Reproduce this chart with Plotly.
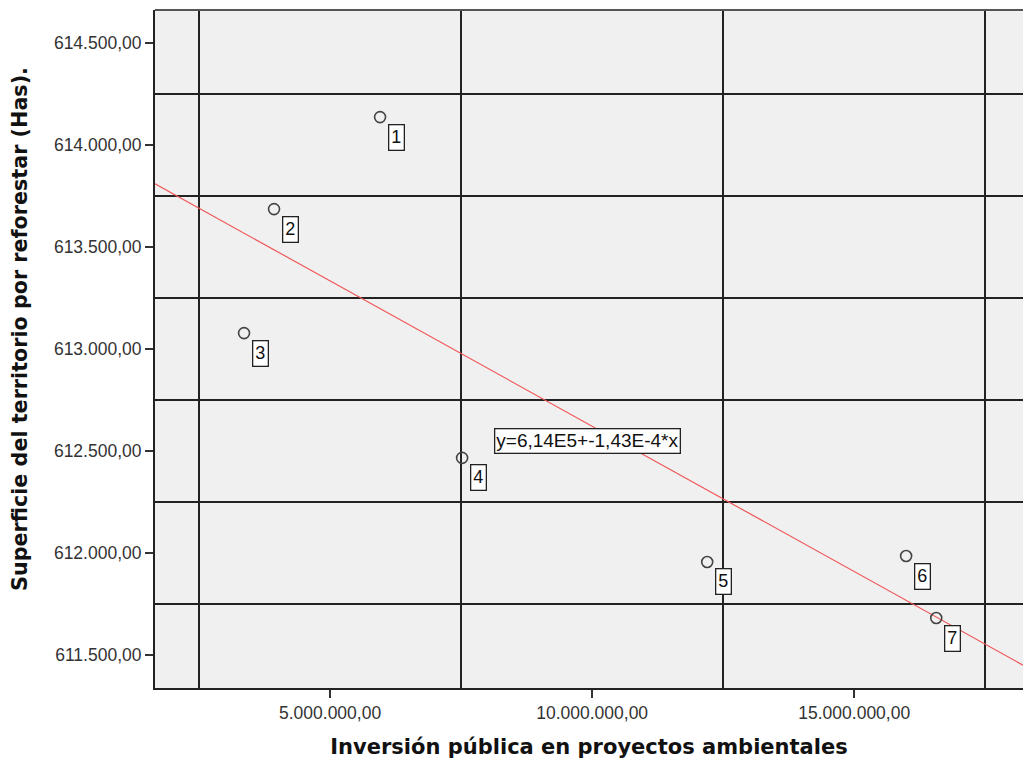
import numpy as np
import plotly.graph_objects as go

# Observations: public investment in environmental projects vs. area pending reforestation
case_ids = ["1", "2", "3", "4", "5", "6", "7"]
inversion = [5954000, 3931000, 3359000, 7519000, 12195000, 15990000, 16565000]
superficie = [614137, 613686, 613078, 612466, 611956, 611985, 611681]

x_tick_vals = [5000000, 10000000, 15000000]
x_tick_text = ["5.000.000,00", "10.000.000,00", "15.000.000,00"]
y_tick_vals = [611500, 612000, 612500, 613000, 613500, 614000, 614500]
y_tick_text = ["611.500,00", "612.000,00", "612.500,00", "613.000,00",
               "613.500,00", "614.000,00", "614.500,00"]

x_range = [1660000, 18220000]
y_range = [611338, 614662]

# Least-squares fit line
slope, intercept = np.polyfit(inversion, superficie, 1)
fit_x = np.array(x_range)
fit_y = intercept + slope * fit_x


def sci_es(v):
    mant, exp = f"{v:.2E}".split("E")
    return f"{mant.replace('.', ',')}E{int(exp)}"


fit_label = f"y={sci_es(intercept)}+{sci_es(slope)}*x"
fit_label_pos = (9905000, 612551)

fig = go.Figure()

fig.add_trace(go.Scatter(
    x=fit_x, y=fit_y, mode="lines",
    line=dict(color="#F0585A", width=1.2),
    hoverinfo="skip", showlegend=False,
))

fig.add_trace(go.Scatter(
    x=inversion, y=superficie, mode="markers",
    marker=dict(symbol="circle-open", size=11, color="#444444",
                line=dict(width=1.6, color="#444444")),
    showlegend=False,
))

label_font = dict(family="Liberation Sans, Arial", size=18, color="#111111")

# Case number boxes next to each point
for cid, xv, yv in zip(case_ids, inversion, superficie):
    fig.add_annotation(
        x=xv, y=yv, text=cid, showarrow=False,
        xshift=16, yshift=-20,
        font=label_font,
        bgcolor="white", bordercolor="#222222", borderwidth=1.3, borderpad=2,
    )

fig.add_annotation(
    x=fit_label_pos[0], y=fit_label_pos[1], text=fit_label, showarrow=False,
    font=dict(family="Liberation Sans, Arial", size=19, color="#111111"),
    bgcolor="white", bordercolor="#222222", borderwidth=1.3, borderpad=1,
)

# Vertical axis title, placed as a rotated annotation
fig.add_annotation(
    xref="paper", yref="paper", x=0, y=0.5295, xshift=-135,
    xanchor="center", yanchor="middle", textangle=-90, showarrow=False,
    text="<b>Superficie del territorio por reforestar (Has).</b>",
    font=dict(family="DejaVu Sans, Verdana", size=20.7, color="#111111"),
)

tick_font = dict(family="Liberation Sans, Arial", size=17.5, color="#333333")

fig.update_xaxes(
    range=x_range, tickvals=x_tick_vals, ticktext=x_tick_text,
    ticks="outside", ticklen=8, tickwidth=2, tickcolor="#333333",
    tickfont=tick_font, showgrid=False, zeroline=False,
    showline=True, linecolor="#222222", linewidth=2,
    minor=dict(tick0=2500000, dtick=5000000, showgrid=True,
               gridcolor="#222222", gridwidth=1.5, ticklen=0),
    title=dict(text="<b>Inversión pública en proyectos ambientales</b>",
               font=dict(family="DejaVu Sans, Verdana", size=21, color="#111111"),
               standoff=20),
)
fig.update_yaxes(
    range=y_range, tickvals=y_tick_vals, ticktext=y_tick_text,
    ticks="outside", ticklen=8, tickwidth=2, tickcolor="#333333",
    tickfont=tick_font, showgrid=False, zeroline=False,
    showline=True, linecolor="#222222", linewidth=2,
    minor=dict(tick0=611750, dtick=500, showgrid=True,
               gridcolor="#222222", gridwidth=1.5, ticklen=0),
)

# Top frame line of the plotting area
fig.add_shape(type="line", xref="paper", yref="paper", x0=0, x1=1, y0=1, y1=1,
              line=dict(color="#555555", width=2))

fig.update_layout(
    width=1023, height=759,
    margin=dict(l=155, r=0, t=10, b=71),
    plot_bgcolor="#F0F0F0", paper_bgcolor="white",
)

fig.write_html("out.html")
